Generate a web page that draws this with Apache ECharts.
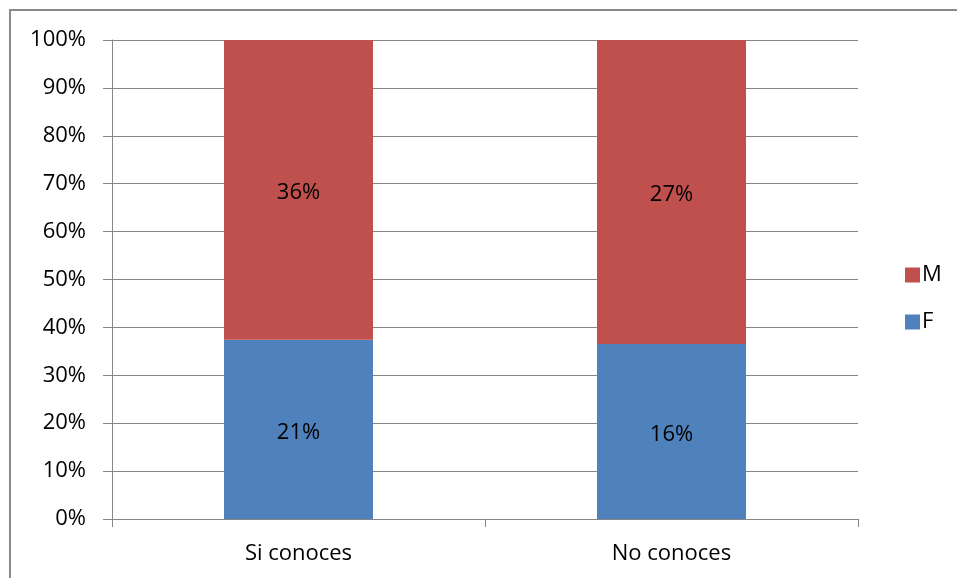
<!DOCTYPE html>
<html>
<head>
<meta charset="utf-8">
<script src="https://cdn.jsdelivr.net/npm/echarts@6/dist/echarts.min.js"></script>
<style>
html,body{margin:0;padding:0;background:#fff;}
#chart{width:957px;height:578px;}
</style>
</head>
<body>
<div id="chart"></div>
<script>
const categories = ['Si conoces', 'No conoces'];
const valuesF = [21.4, 15.6];
const valuesM = [35.8, 27.1];
const yTicks = [0, 10, 20, 30, 40, 50, 60, 70, 80, 90, 100];

const totals = categories.map((c, i) => valuesF[i] + valuesM[i]);
const pctF = valuesF.map((v, i) => v / totals[i] * 100);
const pctM = valuesM.map((v, i) => v / totals[i] * 100);

const FONT = '"Open Sans", "Liberation Sans", sans-serif';
const FS = 22;
const chart = echarts.init(document.getElementById('chart'), null, {renderer: 'canvas'});
chart.setOption({
  animation: false,
  backgroundColor: '#ffffff',
  textStyle: {fontFamily: FONT},
  graphic: [{
    type: 'rect',
    shape: {x: 10, y: 10, width: 1200, height: 1200},
    style: {fill: 'none', stroke: '#8a8a8a', lineWidth: 2},
    silent: true
  }],
  grid: {left: 112, right: 99, top: 40, bottom: 59, containLabel: false},
  legend: {
    orient: 'vertical',
    left: 900,
    top: 259,
    itemWidth: 15,
    itemHeight: 15,
    itemGap: 25,
    icon: 'rect',
    data: ['M', 'F'],
    textStyle: {fontSize: FS, color: '#000', fontFamily: FONT, padding: [0, 0, 0, -3]}
  },
  xAxis: {
    type: 'category',
    data: categories,
    axisLine: {lineStyle: {color: '#868686', width: 1}},
    axisTick: {show: true, length: 8, alignWithLabel: false, lineStyle: {color: '#868686'}},
    axisLabel: {fontSize: FS, color: '#000', margin: 24, fontFamily: FONT},
    splitLine: {show: false}
  },
  yAxis: {
    type: 'value',
    min: yTicks[0],
    max: yTicks[yTicks.length - 1],
    interval: 10,
    axisLine: {show: true, lineStyle: {color: '#868686', width: 1}},
    axisTick: {show: true, length: 9, lineStyle: {color: '#868686'}},
    axisLabel: {fontSize: FS, color: '#000', margin: 26, fontFamily: FONT, formatter: '{value}%'},
    splitLine: {show: true, lineStyle: {color: '#868686', width: 1}}
  },
  series: [
    {
      name: 'F', type: 'bar', stack: 'total', barWidth: 149,
      data: pctF,
      itemStyle: {color: '#4F81BD'},
      label: {show: true, position: 'inside', color: '#000', fontSize: FS, fontFamily: FONT, offset: [0, 3],
        formatter: p => Math.round(valuesF[p.dataIndex]) + '%'}
    },
    {
      name: 'M', type: 'bar', stack: 'total', barWidth: 149,
      data: pctM,
      itemStyle: {color: '#C0504D'},
      label: {show: true, position: 'inside', color: '#000', fontSize: FS, fontFamily: FONT, offset: [0, 3],
        formatter: p => Math.round(valuesM[p.dataIndex]) + '%'}
    }
  ]
});
</script>
</body>
</html>
